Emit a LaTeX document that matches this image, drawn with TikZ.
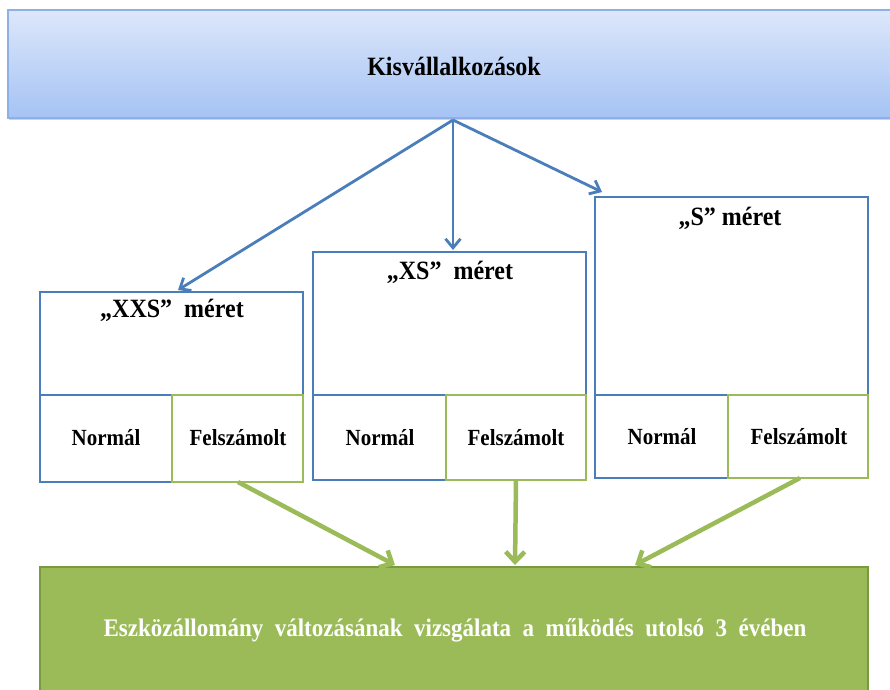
\documentclass[tikz,border=0pt]{standalone}
\usepackage{fontspec}
\usepackage{graphicx}
\setmainfont{Liberation Serif}
\usetikzlibrary{arrows.meta,shadows}
\definecolor{bblue}{HTML}{4A7EBB}
\definecolor{ggreen}{HTML}{9BBB59}
\definecolor{dgreen}{HTML}{7A9A3E}
\definecolor{topA}{HTML}{DDE7FA}
\definecolor{topB}{HTML}{A5C3F4}
\definecolor{topline}{HTML}{8EB0E6}
\newcommand{\vstr}[1]{\scalebox{1}[1.1]{#1}}
\tikzset{
  box/.style={draw=bblue, line width=2.8pt, fill=white, inner sep=0pt, outer sep=0pt},
  gbox/.style={draw=ggreen, line width=2.8pt, inner sep=0pt, outer sep=0pt},
  lbl/.style={font=\bfseries\fontsize{24}{28}\selectfont, inner sep=0pt},
  slbl/.style={font=\bfseries\fontsize{21}{25}\selectfont, inner sep=0pt},
  blbl/.style={font=\bfseries\fontsize{23}{27}\selectfont, inner sep=0pt, text=white},
  barrow/.style={draw=bblue, line width=2.8pt, -{Straight Barb[length=9pt,width=15pt,line width=2.8pt]}},
  garrow/.style={draw=ggreen, line width=4.5pt, -{Straight Barb[length=10pt,width=19pt,line width=4.5pt]}},
}
\begin{document}
\begin{tikzpicture}[x=1pt,y=-1pt]
\useasboundingbox (0,0) rectangle (890,689);
\fill[white] (0,0) rectangle (890,689);
% top box
\begin{scope}
\clip (0,0) rectangle (890,689);
\shade[top color=topA, bottom color=topB, draw=topline, line width=1.5pt, drop shadow={opacity=0.35,shadow xshift=1pt,shadow yshift=-2pt}] (8,10) rectangle (896,118);
\end{scope}
\node[inner sep=0pt, minimum width=888pt, minimum height=108pt] (top) at (452,64) {};
\node[lbl] (toplbl) at (454,66) {\vstr{Kisvállalkozások}};
\coordinate (ts) at (453,120);

% XXS
\node[box, minimum width=263pt, minimum height=103pt] (xxs) at (171.5,343.5) {};
\node[lbl] (xxslbl) at (172,310) {\vstr{„XXS”\ \ méret}};
\node[box, minimum width=132pt, minimum height=87pt] (xxsn) at (106,438.5) {};
\node[gbox, minimum width=131pt, minimum height=87pt] (xxsf) at (237.5,438.5) {};
\node[slbl] at (106,438) {\vstr{Normál}};
\node[slbl] at (238,438) {\vstr{Felszámolt}};

% XS
\node[box, minimum width=273pt, minimum height=143pt] (xs) at (449.5,323.5) {};
\node[lbl] (xslbl) at (450,272) {\vstr{„XS”\ \ méret}};
\node[box, minimum width=133pt, minimum height=85pt] (xsn) at (379.5,437.5) {};
\node[gbox, minimum width=140pt, minimum height=85pt] (xsf) at (516,437.5) {};
\node[slbl] at (380,438) {\vstr{Normál}};
\node[slbl] at (516,438) {\vstr{Felszámolt}};

% S
\node[box, minimum width=273pt, minimum height=198pt] (s) at (731.5,296) {};
\node[lbl] (slbl) at (730,218) {\vstr{„S” méret}};
\node[box, minimum width=133pt, minimum height=83pt] (sn) at (661.5,436.5) {};
\node[gbox, minimum width=140pt, minimum height=83pt] (sf) at (798,436.5) {};
\node[slbl] at (662,437) {\vstr{Normál}};
\node[slbl] at (799,437) {\vstr{Felszámolt}};

% bottom box
\begin{scope}
\clip (0,0) rectangle (890,689);
\node[draw=dgreen, fill=ggreen, line width=1.8pt, inner sep=0pt, minimum width=828pt, minimum height=128pt] (bot) at (454,631) {};
\end{scope}
\node[blbl] (botlbl) at (455,630) {\vstr{Eszközállomány\ \ változásának\ \ vizsgálata\ \ a\ \ működés\ \ utolsó\ \ 3\ \ évében}};

% blue arrows
\coordinate (a1) at (178,290);
\coordinate (a2) at (453,250);
\coordinate (a3) at (602,192);
\draw[barrow] (ts) -- (a1);
\draw[barrow] (ts) -- (a2);
\draw[barrow] (ts) -- (a3);

% green arrows
\coordinate (g1) at (395,565);
\coordinate (g2) at (515,565);
\coordinate (g3) at (635,565);
\draw[garrow] (238,482) -- (g1);
\draw[garrow] (xsf.south) -- (g2);
\draw[garrow] (800,478) -- (g3);
\end{tikzpicture}
\end{document}
